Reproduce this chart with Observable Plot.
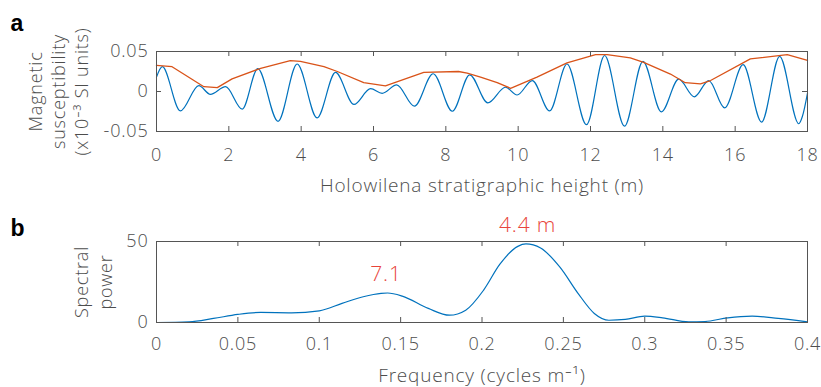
<!DOCTYPE html>
<html><head><meta charset="utf-8">
<script src="https://cdn.jsdelivr.net/npm/d3@7"></script>
<script src="https://cdn.jsdelivr.net/npm/@observablehq/plot@0.6"></script>
<style>
body{margin:0;background:#fff;}
#chart svg{display:block;}
</style></head><body><div id="chart"></div>
<script>
// Panel a: band-pass filtered magnetic susceptibility (extrema)
const heightM = [0, 0.16, 0.66, 1.17, 1.49, 1.91, 2.37, 2.80, 3.36, 3.89, 4.44, 4.95, 5.46, 5.92, 6.24, 6.64, 7.13, 7.65, 8.18, 8.66, 9.16, 9.65, 9.97, 10.39, 10.87, 11.35, 11.89, 12.39, 12.94, 13.45, 13.96, 14.44, 14.87, 15.27, 15.71, 16.22, 16.73, 17.23, 17.76, 17.86, 18];
const susceptibility = [0.018, 0.031, -0.0243, 0.0073, -0.0036, 0.006, -0.022, 0.0285, -0.0373, 0.0344, -0.033, 0.0238, -0.0162, 0.0035, -0.0023, 0.0082, -0.0184, 0.0222, -0.0247, 0.0209, -0.0142, 0.0053, -0.0044, 0.0137, -0.0243, 0.0344, -0.0415, 0.045, -0.0433, 0.0377, -0.0255, 0.0154, -0.0066, 0.0137, -0.0205, 0.0335, -0.0382, 0.044, -0.0403, -0.031, -0.002];
// Amplitude envelope
const envHeight = [0, 0.43, 1.31, 1.68, 2.09, 2.88, 3.70, 3.98, 4.63, 5.0, 5.73, 6.33, 7.39, 8.35, 8.59, 8.96, 9.42, 9.79, 10.52, 11.35, 12.14, 12.46, 13.1, 13.47, 14.21, 14.62, 15.04, 15.32, 16.42, 17.44, 18];
const envelope = [0.0327, 0.031, 0.006, 0.0048, 0.0158, 0.029, 0.0386, 0.0377, 0.031, 0.025, 0.011, 0.007, 0.0238, 0.025, 0.023, 0.018, 0.011, 0.004, 0.018, 0.0357, 0.046, 0.046, 0.042, 0.0365, 0.0218, 0.011, 0.0095, 0.0137, 0.0408, 0.046, 0.039];
const xTicksA = [0, 2, 4, 6, 8, 10, 12, 14, 16, 18];
const yTicksA = [-0.05, 0, 0.05];

// Panel b: spectral power
const frequency = [0, 0.02, 0.035, 0.05, 0.064, 0.083, 0.10, 0.114, 0.127, 0.138, 0.142, 0.151, 0.167, 0.18, 0.19, 0.201, 0.211, 0.222, 0.227, 0.236, 0.248, 0.259, 0.269, 0.278, 0.288, 0.30, 0.311, 0.327, 0.337, 0.351, 0.366, 0.382, 0.4];
const power = [0, 0.4, 2.5, 5, 6.2, 6, 7.2, 11.8, 15.9, 18, 18.2, 16.3, 8.7, 4.5, 7.6, 20, 36, 47, 48.5, 46, 34, 18, 5.6, 1.4, 1.9, 3.9, 2.9, 0.4, 0.6, 2.9, 3.9, 2.5, 0.4];
const peakLabels = ["7.1", "4.4 m"];
const peakFreq = [0.141, 0.228];
const peakPower = [18.2, 48.5];
const xTicksB = [0, 0.05, 0.1, 0.15, 0.2, 0.25, 0.3, 0.35, 0.4];
const yTicksB = [0, 50];

const FONT = "'Open Sans', Roboto, 'Helvetica Neue', Arial, sans-serif";
const TXT = "#4d4d4d";
const AX = "#555";
const blue = "#0072BD", orange = "#D95319", red = "#e8443a";
const fmt = d => String(d);

const susData = heightM.map((x, i) => ({x, y: susceptibility[i]}));
const envData = envHeight.map((x, i) => ({x, y: envelope[i]}));
const specData = frequency.map((x, i) => ({x, y: power[i]}));
const peakData = peakLabels.map((t, i) => ({t, x: peakFreq[i], y: peakPower[i]}));

function boxAxes(xt, yt, padX, w, h) {
  const T = 5;
  return [
    Plot.frame({stroke: AX, strokeWidth: 1}),
    Plot.tickX(xt, {x: d => d, insetTop: h - T, stroke: AX}),
    Plot.tickX(xt, {x: d => d, insetBottom: h - T, stroke: AX}),
    Plot.tickY(yt, {y: d => d, insetRight: w - T, stroke: AX}),
    Plot.tickY(yt, {y: d => d, insetLeft: w - T, stroke: AX}),
    Plot.axisX(xt, {anchor: "bottom", tickSize: 0, tickPadding: padX, label: null, tickFormat: fmt, fill: TXT, fontSize: 18}),
    Plot.axisY(yt, {anchor: "left", tickSize: 0, tickPadding: 8, label: null, tickFormat: fmt, fill: TXT, fontSize: 18})
  ];
}

const baseStyle = {fontFamily: FONT, fontWeight: 300, color: AX, background: "white", letterSpacing: "0.8px"};

const plotA = Plot.plot({
  width: 821, height: 200,
  marginLeft: 156, marginRight: 14, marginTop: 51, marginBottom: 69,
  style: baseStyle,
  x: {domain: [0, 18], axis: null},
  y: {domain: [-0.05, 0.05], axis: null},
  marks: [
    Plot.line(susData, {x: "x", y: "y", stroke: blue, strokeWidth: 1.2, curve: "monotone-x"}),
    Plot.line(envData, {x: "x", y: "y", stroke: orange, strokeWidth: 1.3}),
    ...boxAxes(xTicksA, yTicksA, 17, 651, 80),
    Plot.text(["Holowilena stratigraphic height (m)"], {frameAnchor: "bottom", dy: 54, fontSize: 19, fill: TXT, lineAnchor: "middle"}),
    Plot.text(["Magnetic\nsusceptibility\n(x10\u207B\u00B3 SI units)"], {frameAnchor: "left", rotate: -90, dx: -99, fontSize: 18, fill: TXT, lineAnchor: "middle", textAnchor: "middle", lineHeight: 1.3}),
    Plot.text(["a"], {frameAnchor: "top-left", dx: -146, dy: -21, textAnchor: "start", lineAnchor: "bottom", fontSize: 23, fontWeight: "bold", fill: "#000", fontFamily: "'Liberation Sans', Arial, sans-serif"})
  ]
});

const plotB = Plot.plot({
  width: 821, height: 187,
  marginLeft: 156, marginRight: 14, marginTop: 41, marginBottom: 65,
  style: baseStyle,
  x: {domain: [0, 0.4], axis: null},
  y: {domain: [0, 50], axis: null},
  marks: [
    Plot.line(specData, {x: "x", y: "y", stroke: blue, strokeWidth: 1.2, curve: "monotone-x"}),
    ...boxAxes(xTicksB, yTicksB, 15, 651, 81),
    Plot.text(peakData, {x: "x", y: "y", text: "t", dy: -19, fill: red, fontSize: 21, lineAnchor: "middle"}),
    Plot.text(["Frequency (cycles m\u207B\u00B9)"], {frameAnchor: "bottom", dy: 53, fontSize: 19, fill: TXT, lineAnchor: "middle"}),
    Plot.text(["Spectral\npower"], {frameAnchor: "left", rotate: -90, dx: -64, fontSize: 18, fill: TXT, lineAnchor: "middle", textAnchor: "middle", lineHeight: 1.3}),
    Plot.text(["b"], {frameAnchor: "top-left", dx: -146, dy: -6, textAnchor: "start", lineAnchor: "bottom", fontSize: 23, fontWeight: "bold", fill: "#000", fontFamily: "'Liberation Sans', Arial, sans-serif"})
  ]
});

document.getElementById("chart").append(plotA, plotB);
</script>
</body></html>
